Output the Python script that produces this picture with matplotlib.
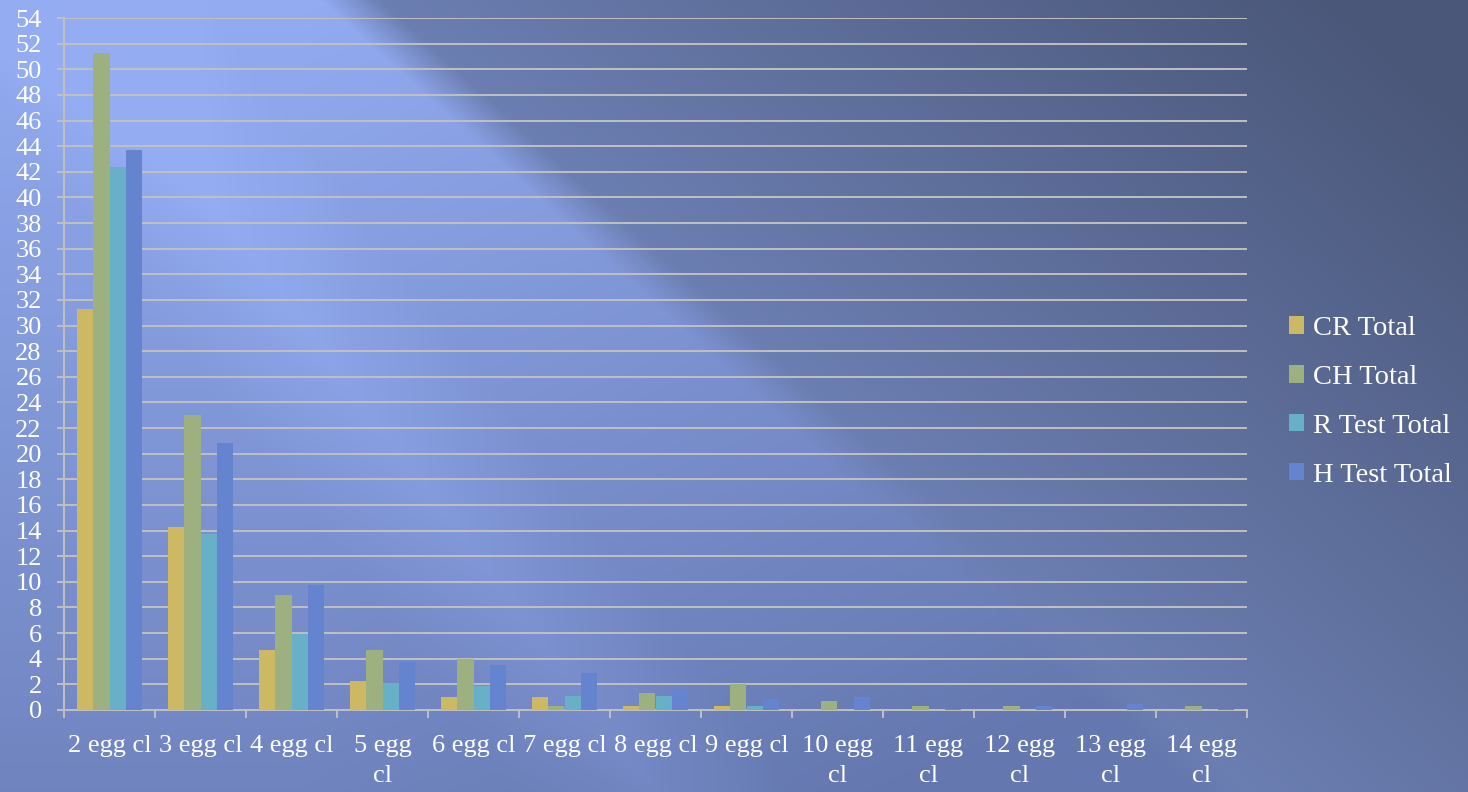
import numpy as np
import matplotlib.pyplot as plt
from matplotlib.colors import to_rgb

categories = ["2 egg cl", "3 egg cl", "4 egg cl", "5 egg\ncl", "6 egg cl", "7 egg cl",
              "8 egg cl", "9 egg cl", "10 egg\ncl", "11 egg\ncl", "12 egg\ncl",
              "13 egg\ncl", "14 egg\ncl"]
cr_total = [31.3, 14.3, 4.7, 2.3, 1.0, 1.0, 0.3, 0.3, 0, 0, 0, 0, 0]
ch_total = [51.3, 23.0, 9.0, 4.7, 4.0, 0.3, 1.3, 2.0, 0.7, 0.3, 0.3, 0, 0.3]
r_test_total = [42.4, 13.7, 5.9, 2.1, 1.9, 1.1, 1.1, 0.35, 0, 0, 0, 0, 0]
h_test_total = [43.7, 20.8, 9.75, 3.75, 3.5, 2.85, 1.6, 0.85, 1.0, 0.1, 0.35, 0.5, 0.1]

series = [("CR Total", cr_total, "#CDB863"),
          ("CH Total", ch_total, "#9CB080"),
          ("R Test Total", r_test_total, "#68AFC8"),
          ("H Test Total", h_test_total, "#6584D0")]

W, H = 1468, 792
fig = plt.figure(figsize=(W / 100, H / 100), dpi=100)

def lerp(c1, c2, s):
    a = np.array(to_rgb(c1))[None, None, :]
    b = np.array(to_rgb(c2))[None, None, :]
    return a * (1 - s[..., None]) + b * s[..., None]

# background: light blue left of a diagonal edge, dark slate to the right
yy, xx = np.mgrid[0:H, 0:W].astype(float)
d = xx - 1.1 * yy
s_left = np.clip(0.75 * yy / H + 0.6 * np.maximum(xx - 300, 0) / W, 0, 1)
streak = np.clip(1 - np.abs((xx - 0.75 * yy) - 60) / 140, 0, 1) * 0.2
s_left = np.clip(s_left - streak, 0, 1)
left = lerp("#93ACF2", "#6477AE", s_left)
r = np.clip((d - 340) / 1000, 0, 1)
right = lerp("#6D80B4", "#4A5779", r)
w = np.clip((d - 320) / 60, 0, 1)[..., None]
bg = left * (1 - w) + right * w
bax = fig.add_axes([0, 0, 1, 1], zorder=0)
bax.imshow(np.clip(bg, 0, 1), aspect="auto", extent=[0, W, H, 0])
bax.axis("off")

ax = fig.add_axes([64 / W, 1 - 710 / H, (1247 - 64) / W, (710 - 18) / H], zorder=1)
ax.set_facecolor("none")

fam = ["Liberation Serif", "DejaVu Serif"]
x = np.arange(len(categories))
bw = 0.178
for i, (name, vals, col) in enumerate(series):
    ax.bar(x + (i - 1.5) * bw, vals, bw, color=col, label=name, zorder=3)

ax.set_xlim(-0.5, len(categories) - 0.5)
ax.set_ylim(0, 54)
ax.set_yticks(np.arange(0, 55, 2))
ax.yaxis.grid(True, color="#C0C0C0", linewidth=1.4, zorder=0)
ax.set_axisbelow(True)

ax.set_xticks(x)
ax.set_xticklabels(categories, color="white", fontsize=19, family=fam,
                   linespacing=1.5, va="top")
ax.set_xticks(np.arange(-0.5, len(categories), 1), minor=True)
ax.tick_params(axis="x", which="major", length=0, pad=18)
ax.tick_params(axis="x", which="minor", length=6, color="#C0C0C0", width=1.4)
ax.tick_params(axis="y", length=5, color="#C0C0C0", width=1.4, labelcolor="white",
               labelsize=19, pad=11)
for lbl in ax.get_yticklabels():
    lbl.set_family(fam)
for s in ["top", "right"]:
    ax.spines[s].set_visible(False)
for s in ["left", "bottom"]:
    ax.spines[s].set_color("#C0C0C0")
    ax.spines[s].set_linewidth(1.4)

leg = fig.legend(loc="center left", bbox_to_anchor=(1263 / W, 1 - 402 / H), frameon=False,
                 prop={"family": fam, "size": 20.5}, handlelength=0.55,
                 handleheight=0.55, handletextpad=0.3, labelspacing=0.84)
for txt in leg.get_texts():
    txt.set_color("white")

fig.savefig("out.png", dpi=100)
